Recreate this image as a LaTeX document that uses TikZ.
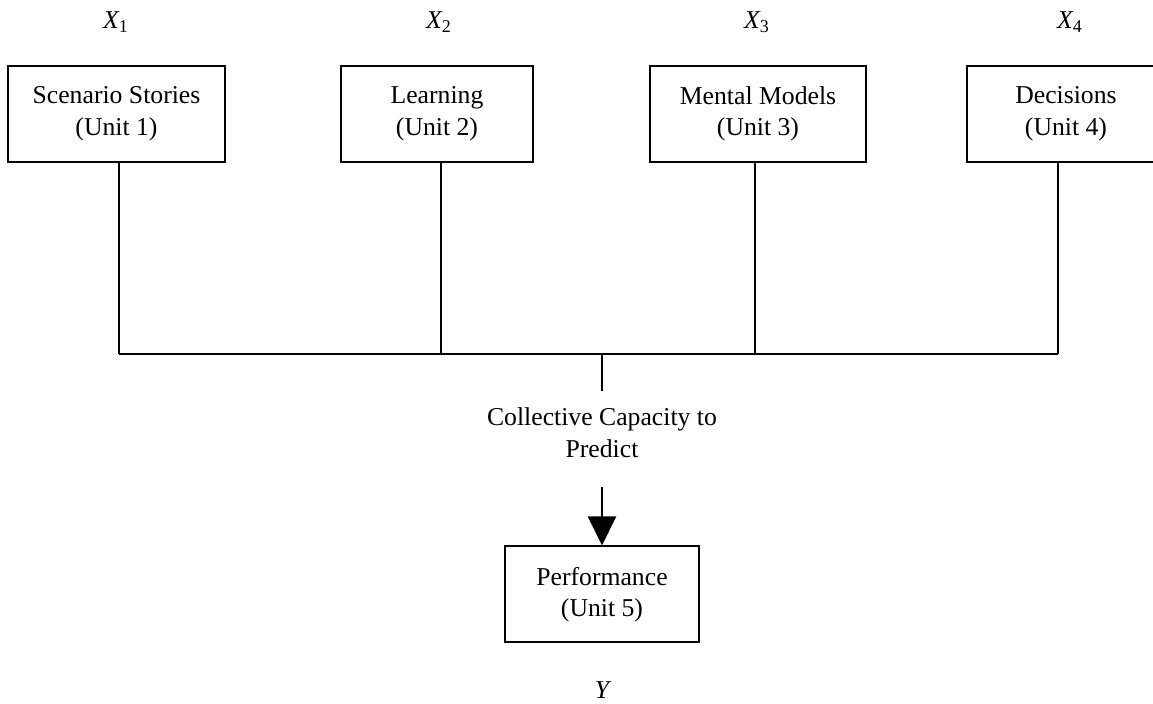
\documentclass[tikz,border=0pt]{standalone}
\usepackage{fontspec}
\setmainfont{Liberation Serif}
\usetikzlibrary{arrows.meta}
\begin{document}
\begin{tikzpicture}[x=0.5pt,y=-0.5pt,
  every node/.style={font=\fontsize{12.85pt}{15.8pt}\selectfont},
  unitbox/.style={draw, line width=1pt, minimum height=48pt, align=center, inner sep=0pt},
  varlabel/.style={inner sep=0pt},
  link/.style={line width=1pt},
  flowarrow/.style={line width=1pt, -{Triangle[width=14pt,length=14.5pt]}}]
\useasboundingbox (0,0) rectangle (1153,704);
\clip (0,0) rectangle (1153,704);

% predictor boxes
\node[unitbox, minimum width=108.5pt] (b1) at (116.5,114) {Scenario Stories\\(Unit 1)};
\node[unitbox, minimum width=96pt]    (b2) at (437,114)   {Learning\\(Unit 2)};
\node[unitbox, minimum width=108pt]   (b3) at (758,114)   {Mental Models\\(Unit 3)};
\node[unitbox, minimum width=99pt]    (b4) at (1066,114)  {Decisions\\(Unit 4)};

% variable labels
\node[varlabel] (x1) at (116,22)  {\itshape X\textsubscript{\upshape 1}};
\node[varlabel] (x2) at (439,22)  {\itshape X\textsubscript{\upshape 2}};
\node[varlabel] (x3) at (757,22)  {\itshape X\textsubscript{\upshape 3}};
\node[varlabel] (x4) at (1070,22) {\itshape X\textsubscript{\upshape 4}};

% joint points on the collecting bar
\coordinate (j1) at (119,354);
\coordinate (j2) at (441,354);
\coordinate (j3) at (755,354);
\coordinate (j4) at (1058,354);
\coordinate (hub) at (602,354);
\coordinate (hubend) at (602,391);
\coordinate (arrstart) at (602,487);

\draw[link] (b1.south -| j1) -- (j1);
\draw[link] (b2.south -| j2) -- (j2);
\draw[link] (b3.south -| j3) -- (j3);
\draw[link] (b4.south -| j4) -- (j4);
\draw[link] (j1) -- (j4);
\draw[link] (hub) -- (hubend);

\node[align=center, inner sep=0pt] (cap) at (602,433) {Collective Capacity to\\Predict};

% outcome
\node[unitbox, minimum width=97pt] (perf) at (602,594.5) {Performance\\(Unit 5)};
\draw[flowarrow] (arrstart) -- (perf.north);

\node[varlabel] (y) at (602,690) {\itshape Y};
\end{tikzpicture}
\end{document}
